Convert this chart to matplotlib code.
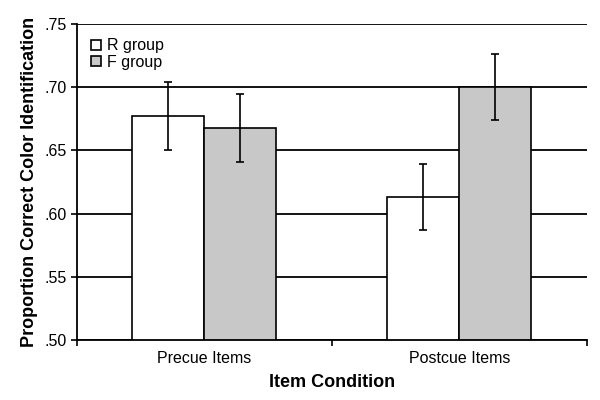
import matplotlib.pyplot as plt
import numpy as np

plt.rcParams['font.family'] = ['Liberation Sans', 'DejaVu Sans']

conditions = ["Precue Items", "Postcue Items"]
r_group = [0.677, 0.613]
f_group = [0.668, 0.700]
r_err = [0.027, 0.026]
f_err = [0.027, 0.026]

fig = plt.figure(figsize=(6, 4), dpi=100)
ax = fig.add_axes([0.128, 0.15, 0.85, 0.79])

x = np.arange(len(conditions))
w = 0.283
ax.set_axisbelow(True)
ax.yaxis.grid(True, color="black", linewidth=1.3)
ax.bar(x - w / 2, r_group, w, color="white", edgecolor="black",
       linewidth=1.2, label="R group", zorder=2)
ax.bar(x + w / 2, f_group, w, color="#c8c8c8", edgecolor="black",
       linewidth=1.2, label="F group", zorder=2)
ax.errorbar(x - w / 2, r_group, yerr=r_err, fmt="none", ecolor="black",
            elinewidth=1.2, capsize=3, capthick=1.2, zorder=3)
ax.errorbar(x + w / 2, f_group, yerr=f_err, fmt="none", ecolor="black",
            elinewidth=1.2, capsize=3, capthick=1.2, zorder=3)

ax.set_ylim(0.50, 0.75)
ax.set_xlim(-0.5, 1.5)
yt = np.arange(0.50, 0.751, 0.05)
ax.set_yticks(yt)
ax.set_yticklabels([f"{v:.2f}"[1:] for v in yt], fontsize=11.5)
ax.set_xticks([-0.5, 0.5, 1.5])
ax.set_xticklabels([])
ax.set_xticks(x, minor=True)
ax.set_xticklabels(conditions, minor=True, fontsize=11.5)
ax.tick_params(axis="x", which="minor", length=0, pad=8)
ax.tick_params(axis="x", which="major", length=4, width=1.2, direction="out")
ax.tick_params(axis="y", length=4, width=1.2, direction="out", pad=3)

for s in ["top", "right"]:
    ax.spines[s].set_visible(False)
for s in ["left", "bottom"]:
    ax.spines[s].set_linewidth(1.3)

ax.set_xlabel("Item Condition", fontsize=13, fontweight="bold", labelpad=6)
ax.set_ylabel("Proportion Correct Color Identification", fontsize=13,
              fontweight="bold", labelpad=5)

ax.legend(loc="upper left", bbox_to_anchor=(0.0, 1.0), frameon=False,
          fontsize=11.5, handlelength=0.6, handleheight=0.6,
          handletextpad=0.4, labelspacing=0.1)

fig.savefig("out.png", dpi=100)
